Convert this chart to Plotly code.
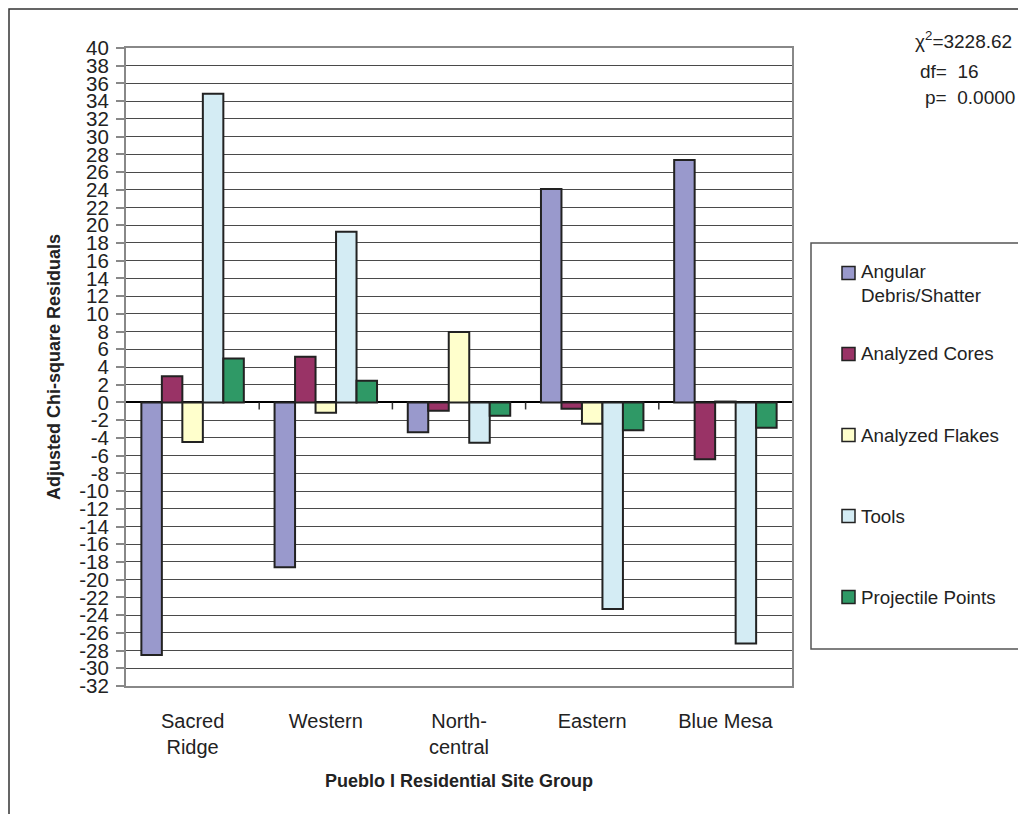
import plotly.graph_objects as go

categories = ["Sacred<br>Ridge", "Western", "North-<br>central", "Eastern", "Blue Mesa"]
series_names = ["Angular<br>Debris/Shatter", "Analyzed Cores", "Analyzed Flakes", "Tools", "Projectile Points"]
angular = [-28.5, -18.6, -3.35, 24.1, 27.35]
cores = [2.95, 5.15, -0.95, -0.7, -6.4]
flakes = [-4.45, -1.15, 7.95, -2.4, 0.1]
tools = [34.85, 19.25, -4.55, -23.3, -27.2]
points = [4.95, 2.45, -1.5, -3.15, -2.85]
colors = ["#9999CC", "#993366", "#FFFFCC", "#D4ECF4", "#2F9966"]
y_ticks = list(range(-32, 41, 2))

OFF = 8  # page offset of the figure (body margin)
W, H = 1026, 814
# plot area in page pixels
PL, PR, PT, PB = 126, 792, 48, 686
L, T = PL - OFF, PT - OFF
R = W - (PR - OFF)
B = H - (PB - OFF)
PW, PH = PR - PL, PB - PT

def px(x):
    return (x - PL) / PW

def py(y):
    return (PB - y) / PH

FONT = "Arial, Liberation Sans, Helvetica, sans-serif"
fig = go.Figure()
for name, vals, col in zip(series_names, [angular, cores, flakes, tools, points], colors):
    fig.add_trace(go.Bar(
        x=categories, y=vals, name=name.replace("<br>", " "),
        marker=dict(color=col, line=dict(color="#222222", width=2)),
    ))

shapes = []
# category tick marks on the zero line
for i in range(len(categories) - 1):
    shapes.append(dict(type="line", xref="x", yref="y", x0=i + 0.5, x1=i + 0.5,
                       ysizemode="pixel", yanchor=0, y0=0, y1=-7,
                       line=dict(color="#333333", width=1.5)))
# outer chart border
shapes.append(dict(type="rect", xref="paper", yref="paper",
                   x0=px(9), x1=px(1040), y0=py(830), y1=py(9),
                   line=dict(color="#333333", width=1.5), layer="below"))
# legend box
shapes.append(dict(type="rect", xref="paper", yref="paper",
                   x0=px(811), x1=px(1040), y0=py(649), y1=py(243),
                   line=dict(color="#555555", width=1.5)))

annotations = []
leg_y = [273, 354, 435, 516, 597]
for name, col, yc in zip(series_names, colors, leg_y):
    shapes.append(dict(type="rect", xref="paper", yref="paper",
                       x0=px(842), x1=px(855), y0=py(yc + 6.5), y1=py(yc - 6.5),
                       fillcolor=col, line=dict(color="#222222", width=1.5)))
    n_lines = name.count("<br>") + 1
    yt = yc + (n_lines - 1) * 10.5
    annotations.append(dict(xref="paper", yref="paper", x=px(859), y=py(yt),
                            xanchor="left", yanchor="middle", align="left",
                            text=name, showarrow=False,
                            font=dict(family=FONT, size=18.8, color="#222222")))

stats = [("\u03c7<sup>2</sup>=3228.62", 913, 40), ("df=\u00a0\u00a016", 918, 71), ("p=\u00a0\u00a00.0000", 923, 98)]
for txt, x0, yc in stats:
    annotations.append(dict(xref="paper", yref="paper", x=px(x0), y=py(yc),
                            xanchor="left", yanchor="middle", text=txt, showarrow=False,
                            font=dict(family=FONT, size=19, color="#222222")))

fig.update_layout(
    width=W, height=H,
    margin=dict(l=L, r=R, t=T, b=B, autoexpand=False),
    paper_bgcolor="white", plot_bgcolor="white",
    barmode="group", bargap=0.2308, bargroupgap=0,
    showlegend=False,
    font=dict(family=FONT, color="#222222"),
    shapes=shapes, annotations=annotations,
    xaxis=dict(
        showgrid=False, showline=True, linecolor="#888888", linewidth=1.5, mirror=True,
        ticks="", tickfont=dict(size=20, color="#222222"), ticklabelstandoff=16,
        title=dict(text="<b>Pueblo I Residential Site Group</b>", font=dict(size=18, color="#222222"), standoff=18),
        automargin=False,
    ),
    yaxis=dict(
        range=[-32, 40], tickvals=y_ticks, ticktext=[str(v) for v in y_ticks],
        showgrid=True, gridcolor="#4a4a4a", gridwidth=1,
        zeroline=True, zerolinecolor="#000000", zerolinewidth=1.5,
        showline=True, linecolor="#888888", linewidth=2, mirror=True,
        ticks="outside", ticklen=8, tickcolor="#888888", tickwidth=1.5,
        tickfont=dict(size=20.5, color="#222222"), ticklabelstandoff=3,
        title=dict(text="<b>Adjusted Chi-square Residuals</b>", font=dict(size=18, color="#222222"), standoff=14),
        automargin=False,
    ),
)

fig.write_html("out.html")
